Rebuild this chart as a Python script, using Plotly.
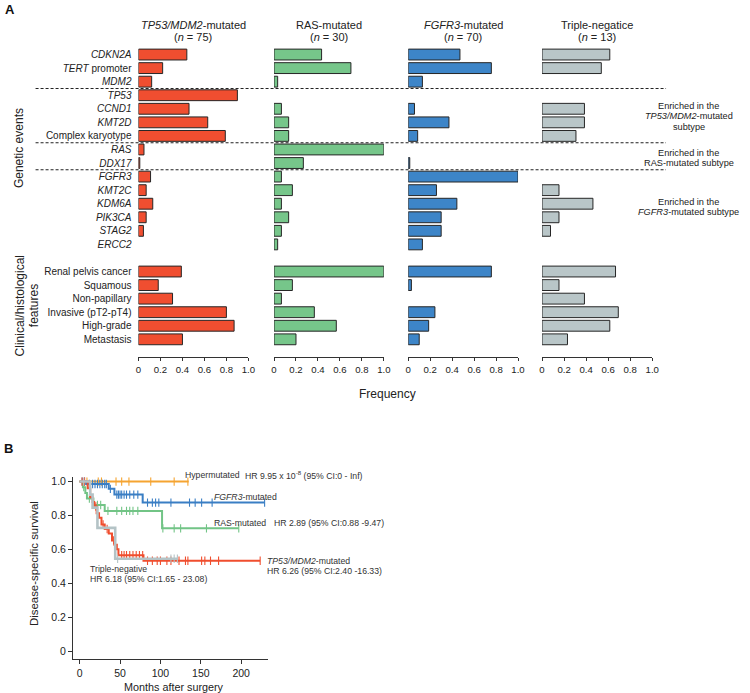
import plotly.graph_objects as go

W, H = 750, 693
FONT = "Arial, Liberation Sans, sans-serif"

# ---------------- Panel A data ----------------
genetic_events = ["<i>CDKN2A</i>", "<i>TERT</i> promoter", "<i>MDM2</i>", "<i>TP53</i>",
                  "<i>CCND1</i>", "<i>KMT2D</i>", "Complex karyotype", "<i>RAS</i>",
                  "<i>DDX17</i>", "<i>FGFR3</i>", "<i>KMT2C</i>", "<i>KDM6A</i>",
                  "<i>PIK3CA</i>", "<i>STAG2</i>", "<i>ERCC2</i>"]
clinical_features = ["Renal pelvis cancer", "Squamous", "Non-papillary",
                     "Invasive (pT2-pT4)", "High-grade", "Metastasis"]

subtype_titles = ["<i>TP53/MDM2</i>-mutated", "RAS-mutated", "<i>FGFR3</i>-mutated", "Triple-negatice"]
subtype_n = [75, 30, 70, 13]

freq_tp53 = [0.44, 0.22, 0.12, 0.90, 0.46, 0.63, 0.79, 0.05, 0.012, 0.11, 0.07, 0.13, 0.07, 0.045, 0,
             0.39, 0.18, 0.31, 0.80, 0.87, 0.40]
freq_ras = [0.433, 0.70, 0.033, 0, 0.067, 0.133, 0.133, 1.0, 0.267, 0.067, 0.167, 0.067, 0.133, 0.067, 0.033,
            1.0, 0.167, 0.067, 0.367, 0.567, 0.20]
freq_fgfr3 = [0.471, 0.757, 0.129, 0, 0.057, 0.371, 0.086, 0, 0.014, 1.0, 0.257, 0.443, 0.30, 0.30, 0.129,
              0.757, 0.029, 0, 0.243, 0.186, 0.10]
freq_tn = [0.615, 0.538, 0, 0, 0.385, 0.385, 0.308, 0, 0, 0, 0.154, 0.462, 0.154, 0.077, 0,
           0.667, 0.154, 0.385, 0.692, 0.615, 0.231]

bar_colors = ["#F04E30", "#76C68A", "#3D85C8", "#B9C6C8"]
freq_ticks = [0, 0.2, 0.4, 0.6, 0.8, 1.0]
freq_ticktext = ["0", "0.2", "0.4", "0.6", "0.8", "1.0"]

# ---------------- Panel B data ----------------
km_groups = ["Hypermutated", "FGFR3-mutated", "RAS-mutated", "TP53/MDM2-mutated", "Triple-negative"]
km_colors = ["#F5A431", "#3A7EC4", "#72C486", "#F04E2E", "#B4C3C6"]

hyper_times = [0]
hyper_surv = [1.0]
hyper_end = 135
hyper_cens = [9, 23, 27, 45, 52, 61, 88, 117, 134]

fgfr3_times = [0, 8, 36, 43, 78]
fgfr3_surv = [1.0, 0.986, 0.957, 0.923, 0.876]
fgfr3_end = 229
fgfr3_cens = [3, 6, 12, 16, 19, 22, 25, 28, 31, 33, 38, 46, 48, 50, 52, 55, 58, 62, 67, 72,
              84, 90, 94, 98, 113, 136, 143, 151, 164, 229]

ras_times = [0, 4, 7, 9, 17, 31, 102]
ras_surv = [1.0, 0.967, 0.933, 0.90, 0.862, 0.827, 0.724]
ras_end = 197
ras_cens = [5, 12, 22, 26, 35, 46, 52, 58, 62, 66, 72, 103, 117, 125, 157, 197]

tp53_times = [0, 10, 13, 16, 18, 21, 24, 27, 31, 36, 40, 43, 46, 48, 79]
tp53_surv = [1.0, 0.96, 0.907, 0.88, 0.853, 0.813, 0.787, 0.747, 0.72, 0.693, 0.653, 0.627, 0.60, 0.565, 0.533]
tp53_end = 223.5
tp53_cens = [3, 6, 20, 29, 34, 42, 52, 55, 58, 62, 66, 70, 74, 78, 84, 90, 96, 100, 108, 113,
             123, 131, 134, 151, 155, 162, 172, 223.5]

tn_times = [0, 13, 16, 22, 44]
tn_surv = [1.0, 0.923, 0.846, 0.727, 0.545]
tn_end = 121
tn_cens = [5, 47, 113, 117, 121]

km_ticks_x = [0, 50, 100, 150, 200]
km_ticks_y = [0, 0.2, 0.4, 0.6, 0.8, 1.0]
km_ticktext_y = ["0", "0.2", "0.4", "0.6", "0.8", "1.0"]

# ---------------- helpers ----------------
def px(x):
    return x / W

def py(y):
    return 1 - y / H

fig = go.Figure()

# row positions (layout): genetic rows, one blank row, clinical rows
row_labels = genetic_events + clinical_features
row_pos = list(range(len(genetic_events))) + [len(genetic_events) + 1 + i for i in range(len(clinical_features))]

panel_dom = [(137.3, 248.7), (274.7, 386.0), (410.7, 522.0), (546.3, 658.0)]
all_freqs = [freq_tp53, freq_ras, freq_fgfr3, freq_tn]

y_top_px, y_bot_px = 40.0, 356.0
row0_px, row_step = 52.7, 13.6
y_rng = [(y_bot_px - row0_px) / row_step, (y_top_px - row0_px) / row_step]

for k in range(4):
    sfx = "" if k == 0 else str(k + 1)
    vals = [v if v > 0 else None for v in all_freqs[k]]
    fig.add_trace(go.Bar(
        x=vals, y=row_pos, orientation="h", width=0.8,
        marker=dict(color=bar_colors[k], line=dict(color="#262626", width=1)),
        xaxis="x" + sfx, yaxis="y" + sfx, showlegend=False, hoverinfo="skip"))
    d0, d1 = panel_dom[k]
    fig.layout["xaxis" + sfx] = dict(
        domain=[px(d0), px(d1)], range=[0, 1], anchor="y" + sfx,
        showline=True, linecolor="#333", linewidth=1, ticks="outside", ticklen=3.5,
        tickcolor="#333", tickwidth=1, tickvals=freq_ticks, ticktext=freq_ticktext,
        tickfont=dict(family=FONT, size=9.6, color="#222"), showgrid=False, zeroline=False,
        fixedrange=True)
    ydict = dict(domain=[py(y_bot_px), py(y_top_px)], range=y_rng, anchor="x" + sfx,
                 showgrid=False, zeroline=False, showline=False, fixedrange=True)
    if k == 0:
        ydict.update(tickvals=row_pos, ticktext=row_labels, ticks="",
                     tickfont=dict(family=FONT, size=10, color="#222"), ticklabelstandoff=6)
    else:
        ydict.update(showticklabels=False, ticks="")
    fig.layout["yaxis" + sfx] = ydict

    # headers
    cx = (d0 + d1) / 2
    fig.add_annotation(x=px(cx), y=py(23.3), xref="paper", yref="paper", text=subtype_titles[k],
                       showarrow=False, font=dict(family=FONT, size=11, color="#222"),
                       xanchor="center", yanchor="middle")
    fig.add_annotation(x=px(cx), y=py(35.2), xref="paper", yref="paper",
                       text="(<i>n</i> = %d)" % subtype_n[k],
                       showarrow=False, font=dict(family=FONT, size=11, color="#222"),
                       xanchor="center", yanchor="middle")

# dashed separators between groups of genetic events
for sep in [2.5, 6.5, 8.5]:
    fig.add_shape(type="line", xref="paper", yref="y", x0=px(33), x1=px(672), y0=sep, y1=sep,
                  line=dict(color="#222", width=1.1, dash="3px,2px"))

# enrichment notes on the right
notes = [(104.7, "Enriched in the"), (114.7, "<i>TP53/MDM2</i>-mutated"), (125.0, "subtype"),
         (151.3, "Enriched in the"), (161.7, "RAS-mutated subtype"),
         (200.7, "Enriched in the"), (210.7, "<i>FGFR3</i>-mutated subtype")]
for yy, t in notes:
    fig.add_annotation(x=px(695), y=py(yy), xref="paper", yref="paper", text=t, showarrow=False,
                       font=dict(family=FONT, size=9.2, color="#222"), xanchor="center", yanchor="middle")

# axis titles panel A
fig.add_annotation(x=px(15.7), y=py(146), xref="paper", yref="paper", text="Genetic events",
                   textangle=-90, showarrow=False, font=dict(family=FONT, size=12, color="#222"),
                   xanchor="center", yanchor="middle")
fig.add_annotation(x=px(17.5), y=py(305), xref="paper", yref="paper", text="Clinical/histological",
                   textangle=-90, showarrow=False, font=dict(family=FONT, size=12, color="#222"),
                   xanchor="center", yanchor="middle")
fig.add_annotation(x=px(31.5), y=py(305), xref="paper", yref="paper", text="features",
                   textangle=-90, showarrow=False, font=dict(family=FONT, size=12, color="#222"),
                   xanchor="center", yanchor="middle")
fig.add_annotation(x=px(390), y=py(392.7), xref="paper", yref="paper", text="Frequency",
                   showarrow=False, font=dict(family=FONT, size=12, color="#222"),
                   xanchor="center", yanchor="middle")

# panel letters
fig.add_annotation(x=px(7), y=py(8), xref="paper", yref="paper", text="<b>A</b>", showarrow=False,
                   font=dict(family=FONT, size=13, color="#111"), xanchor="center", yanchor="middle")
fig.add_annotation(x=px(6), y=py(448), xref="paper", yref="paper", text="<b>B</b>", showarrow=False,
                   font=dict(family=FONT, size=13, color="#111"), xanchor="center", yanchor="middle")

# ---------------- Panel B ----------------
km_data = [(hyper_times, hyper_surv, hyper_end, hyper_cens),
           (fgfr3_times, fgfr3_surv, fgfr3_end, fgfr3_cens),
           (ras_times, ras_surv, ras_end, ras_cens),
           (tp53_times, tp53_surv, tp53_end, tp53_cens),
           (tn_times, tn_surv, tn_end, tn_cens)]

def surv_at(times, surv, t):
    s = surv[0]
    for ti, si in zip(times, surv):
        if ti <= t:
            s = si
    return s

for i, (tt, ss, end, cens) in enumerate(km_data):
    lw = 2.6 if i == 4 else 2.0
    fig.add_trace(go.Scatter(x=tt + [end], y=ss + [ss[-1]], mode="lines",
                             line=dict(color=km_colors[i], width=lw, shape="hv"),
                             xaxis="x5", yaxis="y5", showlegend=False, hoverinfo="skip",
                             name=km_groups[i]))
    fig.add_trace(go.Scatter(x=cens, y=[surv_at(tt, ss, c) for c in cens], mode="markers",
                             marker=dict(symbol="line-ns-open", size=6, color=km_colors[i],
                                         line=dict(color=km_colors[i], width=1.1)),
                             xaxis="x5", yaxis="y5", showlegend=False, hoverinfo="skip"))

fig.layout["xaxis5"] = dict(domain=[px(71), px(269)], range=[-8.2, 233.7], anchor="y5",
                            showline=True, linecolor="#333", linewidth=1, ticks="outside", ticklen=4,
                            tickcolor="#333", tickvals=km_ticks_x,
                            tickfont=dict(family=FONT, size=10.5, color="#222"),
                            showgrid=False, zeroline=False, fixedrange=True)
fig.layout["yaxis5"] = dict(domain=[py(659.3), py(476.7)], range=[-0.049, 1.025], anchor="x5",
                            showline=True, linecolor="#333", linewidth=1, ticks="outside", ticklen=4,
                            tickcolor="#333", tickvals=km_ticks_y, ticktext=km_ticktext_y,
                            tickfont=dict(family=FONT, size=10.5, color="#222"),
                            showgrid=False, zeroline=False, fixedrange=True)

fig.add_annotation(x=px(32), y=py(563), xref="paper", yref="paper", text="Disease-specific survival",
                   textangle=-90, showarrow=False, font=dict(family=FONT, size=11.4, color="#222"),
                   xanchor="center", yanchor="middle")
fig.add_annotation(x=px(173), y=py(686.5), xref="paper", yref="paper", text="Months after surgery",
                   showarrow=False, font=dict(family=FONT, size=10.8, color="#222"),
                   xanchor="center", yanchor="middle")

km_notes = [(182.5, 474, "Hypermutated"),
            (243.3, 474, "HR 9.95 x 10<sup>-8</sup> (95% CI:0 - Inf)"),
            (212.3, 496, "<i>FGFR3</i>-mutated"),
            (212.3, 522.3, "RAS-mutated"),
            (272.7, 522.3, "HR 2.89 (95% CI:0.88 -9.47)"),
            (265.7, 560.7, "<i>TP53/MDM2</i>-mutated"),
            (265.7, 570.5, "HR 6.26 (95% CI:2.40 -16.33)"),
            (86, 568.3, "Triple-negative"),
            (86, 578.5, "HR 6.18 (95% CI:1.65 - 23.08)")]
for xx, yy, t in km_notes:
    fig.add_annotation(x=px(xx), y=py(yy), xref="paper", yref="paper", text=t, showarrow=False,
                       font=dict(family=FONT, size=8.7, color="#333"), xanchor="left", yanchor="middle")

fig.update_layout(width=W, height=H, margin=dict(l=0, r=0, t=0, b=0),
                  paper_bgcolor="white", plot_bgcolor="white", bargap=0.2)

fig.write_html("out.html", config={"displayModeBar": False},
               post_script="document.body.style.margin='0';document.body.style.padding='0';")
